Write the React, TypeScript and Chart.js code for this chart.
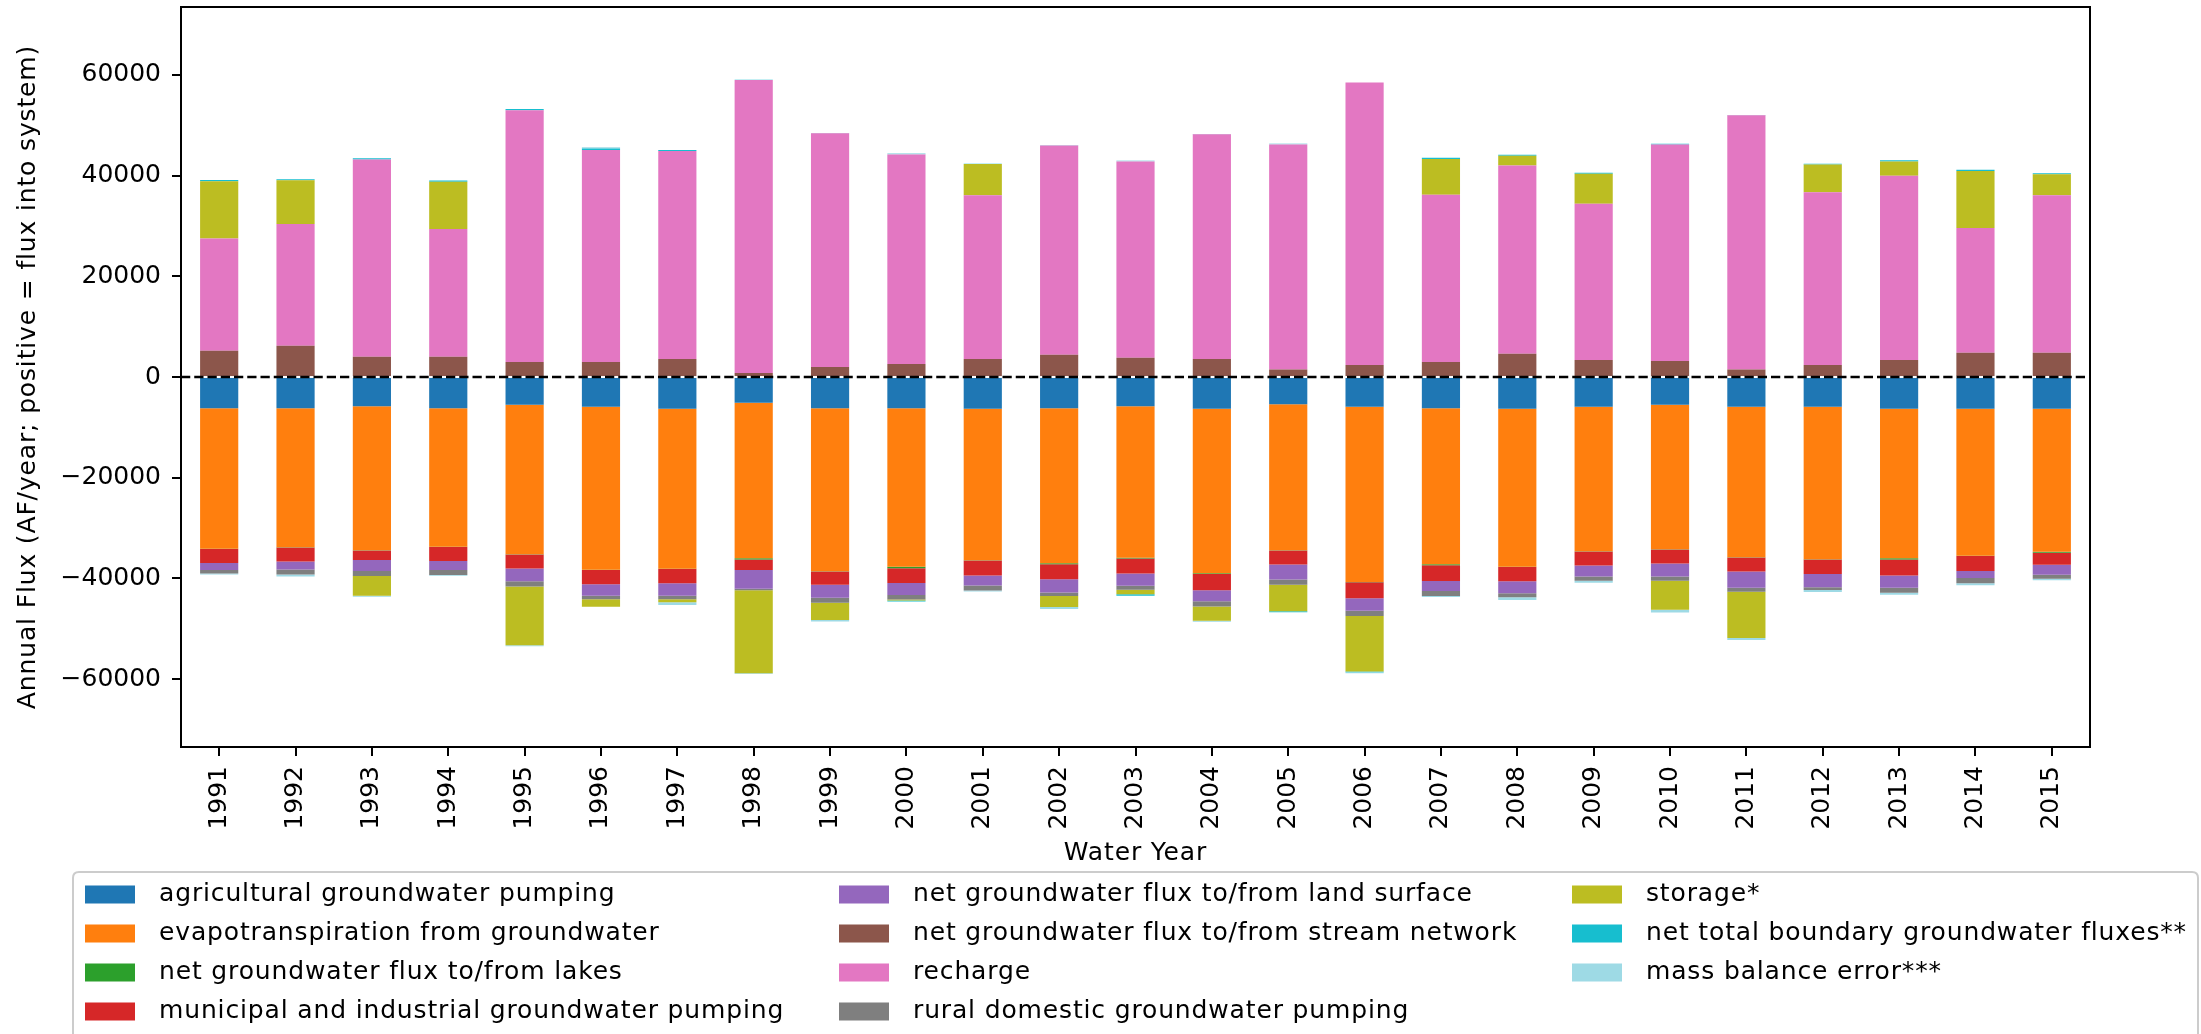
import { useEffect, useRef } from 'react';
import { Chart, registerables } from 'chart.js';

Chart.register(...registerables);

const years = ['1991','1992','1993','1994','1995','1996','1997','1998','1999','2000','2001','2002','2003','2004','2005','2006','2007','2008','2009','2010','2011','2012','2013','2014','2015'];

const agPumping = [-6200,-6200,-5800,-6200,-5500,-5900,-6300,-5100,-6200,-6200,-6300,-6200,-5800,-6300,-5400,-5900,-6200,-6300,-5900,-5500,-5900,-5900,-6300,-6300,-6300];
const evapotranspiration = [-27900,-27600,-28600,-27500,-29700,-32400,-31800,-30900,-32400,-31500,-30100,-30800,-30100,-32700,-29000,-34800,-31000,-31400,-28700,-28700,-29900,-30300,-29700,-29200,-28400];
const lakes = [-50,-50,-50,-50,-50,-50,-50,-250,-50,-300,-50,-200,-150,-150,-50,-50,-200,-50,-50,-50,-50,-50,-250,-50,-200];
const municipal = [-2800,-2800,-1900,-2800,-2800,-2800,-2800,-2100,-2600,-2900,-3000,-3000,-3000,-3200,-2800,-3200,-3100,-2800,-2800,-2800,-2800,-2900,-3200,-3000,-2400];
const landSurface = [-1400,-1600,-2200,-1800,-2500,-2300,-2500,-3700,-2600,-2400,-1950,-2600,-2400,-2200,-3000,-2500,-2000,-2400,-2200,-2600,-3200,-2600,-2400,-1400,-2000];
const streamNetwork = [5200,6200,4000,4000,3000,3000,3600,800,2000,2600,3600,4400,3800,3600,1500,2400,3000,4600,3400,3200,1500,2400,3400,4800,4800];
const recharge = [22300,24200,39200,25400,50000,42100,41300,58200,46400,41600,32500,41600,39000,44600,44700,56100,33200,37400,31000,43000,50500,34300,36600,24800,31300];
const ruralDomestic = [-700,-1000,-1000,-1000,-1050,-700,-700,-300,-1000,-900,-1000,-700,-800,-1050,-1000,-1050,-1000,-800,-800,-800,-800,-550,-1000,-1000,-800];
const storage = [11400,8700,-3900,9400,-11700,-1500,-600,-16500,-3400,-200,6200,-2200,-900,-2800,-5300,-11000,7100,1950,6000,-5800,-9200,5500,2800,11300,4200];
const boundary = [250,200,250,250,250,300,200,50,50,-200,50,50,-300,50,-200,-150,250,200,150,150,50,150,250,250,150];
const massBalanceError = [-200,-400,-200,-150,-200,250,-550,-150,-300,250,-200,-400,200,-200,200,-200,-200,-550,-400,-550,-400,-400,-400,-400,-300];

const seriesLabels = [
  'agricultural groundwater pumping',
  'evapotranspiration from groundwater',
  'net groundwater flux to/from lakes',
  'municipal and industrial groundwater pumping',
  'net groundwater flux to/from land surface',
  'net groundwater flux to/from stream network',
  'recharge',
  'rural domestic groundwater pumping',
  'storage*',
  'net total boundary groundwater fluxes**',
  'mass balance error***',
];
const seriesValues = [agPumping, evapotranspiration, lakes, municipal, landSurface, streamNetwork, recharge, ruralDomestic, storage, boundary, massBalanceError];
const seriesColors = ['#1f77b4','#ff7f0e','#2ca02c','#d62728','#9467bd','#8c564b','#e377c2','#7f7f7f','#bcbd22','#17becf','#9edae5'];

const yTickValues = [-60000, -40000, -20000, 0, 20000, 40000, 60000];
const yLimit = 73500;
const xTitle = 'Water Year';
const yTitle = 'Annual Flux (AF/year; positive = flux into system)';

const FONT = '"DejaVu Sans", sans-serif';

export default function App() {
  const ref = useRef<HTMLCanvasElement>(null);

  useEffect(() => {
    if (!ref.current) return;

    const zeroLine = {
      id: 'zeroLine',
      afterDatasetsDraw(chart: any) {
        const { ctx, chartArea, scales } = chart;
        const py = scales.y.getPixelForValue(0);
        ctx.save();
        ctx.beginPath();
        ctx.rect(chartArea.left, chartArea.top, chartArea.right - chartArea.left, chartArea.bottom - chartArea.top);
        ctx.clip();
        ctx.setLineDash([9.25, 4]);
        ctx.lineWidth = 2.5;
        ctx.strokeStyle = '#000';
        ctx.beginPath();
        ctx.moveTo(chartArea.left, py);
        ctx.lineTo(chartArea.right, py);
        ctx.stroke();
        ctx.restore();
      },
    };

    const frameAndTitles = {
      id: 'frameAndTitles',
      afterDraw(chart: any) {
        const { ctx, chartArea } = chart;
        ctx.save();
        ctx.lineWidth = 2;
        ctx.strokeStyle = '#000';
        ctx.strokeRect(chartArea.left, chartArea.top, chartArea.right - chartArea.left, chartArea.bottom - chartArea.top);
        ctx.font = '25px ' + FONT;
        (ctx as any).letterSpacing = '0.85px';
        ctx.fillStyle = '#000';
        ctx.textAlign = 'center';
        ctx.textBaseline = 'middle';
        ctx.fillText(xTitle, (chartArea.left + chartArea.right) / 2, 853);
        ctx.translate(28, (chartArea.top + chartArea.bottom) / 2);
        ctx.rotate(-Math.PI / 2);
        ctx.fillText(yTitle, 0, 0);
        ctx.restore();
      },
    };

    const columnLegend = {
      id: 'columnLegend',
      afterDraw(chart: any) {
        const ctx = chart.ctx;
        ctx.save();
        const x0 = 73, y0 = 872, w = 2125, h = 200, r = 6;
        ctx.beginPath();
        ctx.moveTo(x0 + r, y0);
        ctx.lineTo(x0 + w - r, y0);
        ctx.quadraticCurveTo(x0 + w, y0, x0 + w, y0 + r);
        ctx.lineTo(x0 + w, y0 + h);
        ctx.lineTo(x0, y0 + h);
        ctx.lineTo(x0, y0 + r);
        ctx.quadraticCurveTo(x0, y0, x0 + r, y0);
        ctx.closePath();
        ctx.fillStyle = 'rgba(255,255,255,0.8)';
        ctx.fill();
        ctx.lineWidth = 2;
        ctx.strokeStyle = '#cccccc';
        ctx.stroke();
        const colX = [85, 839, 1572];
        const rowY = [894.5, 933.5, 972.5, 1011.5];
        ctx.font = '25px ' + FONT;
        (ctx as any).letterSpacing = '0.85px';
        ctx.textBaseline = 'middle';
        ctx.textAlign = 'left';
        chart.data.datasets.forEach((ds: any, i: number) => {
          const col = Math.floor(i / 4);
          const row = i % 4;
          ctx.fillStyle = ds.backgroundColor;
          ctx.fillRect(colX[col], rowY[row] - 9, 50, 18);
          ctx.fillStyle = '#000';
          ctx.fillText(ds.label, colX[col] + 74, rowY[row]);
        });
        ctx.restore();
      },
    };

    const chart = new Chart(ref.current, {
      type: 'bar',
      data: {
        labels: years,
        datasets: seriesValues.map((vals, i) => ({
          label: seriesLabels[i],
          data: vals,
          backgroundColor: seriesColors[i],
          borderWidth: 0,
          barPercentage: 0.5,
          categoryPercentage: 1.0,
        })),
      },
      options: {
        responsive: false,
        animation: false,
        devicePixelRatio: 1,
        layout: { padding: { left: 0, top: 7, right: 111, bottom: 166 } },
        plugins: {
          legend: { display: false },
          tooltip: { enabled: false },
        },
        scales: {
          x: {
            stacked: true,
            offset: true,
            grid: { display: true, drawOnChartArea: false, drawTicks: true, tickLength: 9, lineWidth: 2, color: '#000', offset: false },
            border: { display: false },
            ticks: {
              color: '#000',
              font: { family: FONT, size: 25 },
              minRotation: 90,
              maxRotation: 90,
              autoSkip: false,
              padding: 10,
            },
            title: { display: false },
            afterFit(scale: any) {
              scale.height = 121;
              scale.paddingLeft = 0;
              scale.paddingRight = 0;
            },
          },
          y: {
            stacked: true,
            min: -yLimit,
            max: yLimit,
            grid: { display: true, drawOnChartArea: false, drawTicks: true, tickLength: 9, lineWidth: 2, color: '#000' },
            border: { display: false },
            ticks: {
              color: '#000',
              font: { family: FONT, size: 25 },
              padding: 11,
              callback: (v: any) => (v < 0 ? '\u2212' + Math.abs(v) : String(v)),
            },
            title: { display: false },
            afterBuildTicks(scale: any) { scale.ticks = yTickValues.map((v) => ({ value: v })); },
            afterFit(scale: any) {
              scale.width = 181;
              scale.paddingTop = 0;
              scale.paddingBottom = 0;
            },
          },
        },
      },
      plugins: [zeroLine, frameAndTitles, columnLegend],
    } as any);

    return () => chart.destroy();
  }, []);

  return (
    <div style={{ position: 'fixed', left: 0, top: 0, width: 2201, height: 1034, background: '#fff' }}>
      <canvas ref={ref} width={2201} height={1034} style={{ width: 2201, height: 1034, display: 'block' }} />
    </div>
  );
}
